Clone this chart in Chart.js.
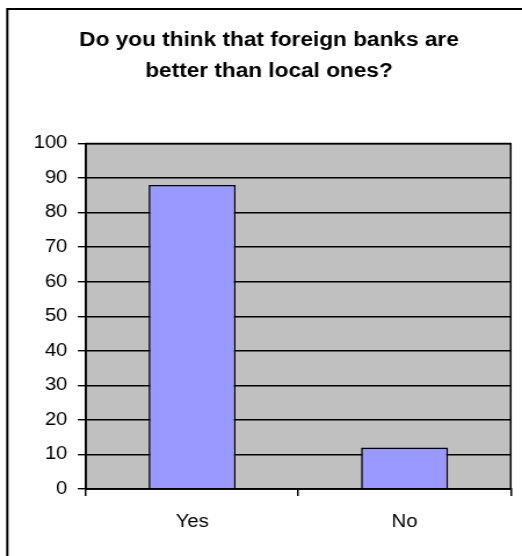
<!DOCTYPE html>
<html>
<head>
<meta charset="utf-8">
<script src="https://cdn.jsdelivr.net/npm/chart.js@4/dist/chart.umd.min.js"></script>
<style>
  html, body { margin: 0; padding: 0; background: #fff; overflow: hidden; }
  #wrap { width: 522px; height: 556px; overflow: hidden; }
  /* the chart is laid out narrow and widened to the page width */
  #bankChart { transform: scaleX(1.16); transform-origin: 0 0; }
</style>
</head>
<body>
<div id="wrap"><canvas id="bankChart" width="450" height="556"></canvas></div>
<script>
// survey answers (percent)
const answers = ["Yes", "No"];
const percent = [88, 12];
const titleLines = ["Do you think that foreign banks are", "better than local ones?"];

const fontFamily = "'Liberation Sans', Arial, sans-serif";

// grey plot background, plot frame and the open outer frame (left + top)
const framePlugin = {
  id: "frame",
  beforeDraw(chart) {
    const { ctx, chartArea: a } = chart;
    ctx.save();
    ctx.fillStyle = "#ffffff";
    ctx.fillRect(0, 0, chart.width, chart.height);
    ctx.fillStyle = "#c0c0c0";
    ctx.fillRect(a.left, a.top, a.right - a.left, a.bottom - a.top);
    ctx.restore();
  },
  afterDraw(chart) {
    const { ctx, chartArea: a } = chart;
    ctx.save();
    ctx.strokeStyle = "#000";
    ctx.lineWidth = 1.5;
    ctx.strokeRect(a.left, a.top, a.right - a.left, a.bottom - a.top);
    ctx.lineWidth = 2;
    ctx.beginPath();
    ctx.moveTo(6.3, chart.height + 2);
    ctx.lineTo(6.3, 9);
    ctx.lineTo(chart.width + 2, 9);
    ctx.stroke();
    ctx.restore();
  }
};

new Chart(document.getElementById("bankChart"), {
  type: "bar",
  data: {
    labels: answers,
    datasets: [{
      data: percent,
      backgroundColor: "#9999ff",
      borderColor: "#000",
      borderWidth: 1.6,
      barPercentage: 0.41,
      categoryPercentage: 1
    }]
  },
  options: {
    responsive: false,
    animation: false,
    layout: { padding: { left: 23.5, right: 9.7, top: 0, bottom: 0 } },
    plugins: {
      legend: { display: false },
      tooltip: { enabled: false },
      title: {
        display: true,
        text: titleLines,
        color: "#000",
        font: { family: fontFamily, size: 19.5, weight: "bold", lineHeight: 1.59 },
        padding: { top: 25.5, bottom: 56 }
      }
    },
    scales: {
      x: {
        grid: { offset: true, drawOnChartArea: false, color: "#000", tickLength: 7, lineWidth: 1.5 },
        border: { color: "#000", width: 1.5 },
        ticks: { color: "#000", padding: 16, font: { family: fontFamily, size: 17.5 } },
        afterFit(scale) { scale.height = 67; }
      },
      y: {
        min: 0,
        max: 100,
        ticks: { stepSize: 10, color: "#000", padding: 9, font: { family: fontFamily, size: 17.5 } },
        grid: { color: "#000", tickLength: 7, lineWidth: 1.4 },
        border: { color: "#000", width: 1.5 },
        afterFit(scale) { scale.width = 50.6; }
      }
    }
  },
  plugins: [framePlugin]
});
</script>
</body>
</html>
